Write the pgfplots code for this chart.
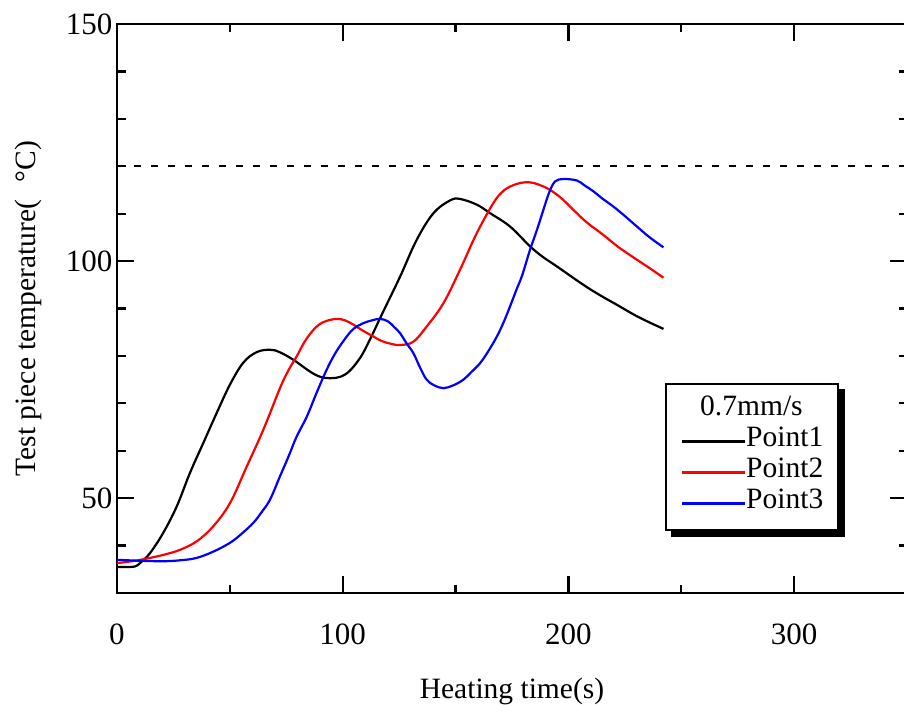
\documentclass[border=0pt]{standalone}
\usepackage{pgfplots}
\pgfplotsset{compat=1.18}
\usepackage{fontspec}
\setmainfont{Liberation Serif}
\usetikzlibrary{backgrounds}
\begin{document}
\begin{tikzpicture}
\begin{axis}[
  scale only axis,
  width=790pt, height=569pt,
  xmin=0, xmax=350, ymin=30, ymax=150,
  xtick={0,100,200,300}, ytick={50,100,150},
  minor xtick={50,150,250,350},
  minor ytick={40,60,70,80,90,110,120,130,140},
  tick align=inside,
  major tick length=17pt, minor tick length=8.5pt,
  every tick/.style={black, line width=2.2pt},
  axis line style={line width=2.4pt},
  tick pos=both,
  font=\fontsize{29.5}{33}\selectfont,
  tick label style={font=\fontsize{31}{35}\selectfont},
  /pgf/number format/assume math mode=true,
  xticklabel style={yshift=-27pt},
  yticklabel style={xshift=-1pt},
  xlabel={Heating time(s)},
  ylabel={Test piece temperature(\kern0.6em°C)},
  xlabel style={at={(axis description cs:0.5,0)}, anchor=base, yshift=-105pt},
  ylabel style={at={(axis description cs:0,0.5)}, anchor=base, yshift=81pt},
  legend cell align=left,
  legend image code/.code={\draw[#1] (0pt,0pt) -- (63pt,0pt);},
  legend style={
    name=leg,
    at={(axis cs:242.8,74.3)}, anchor=north west,
    draw=black, line width=2pt, fill=white,
    inner xsep=15pt, inner ysep=11pt,
    row sep=0pt,
    nodes={inner sep=0pt, text height=21pt, text depth=10pt},
    font=\fontsize{29.5}{31}\selectfont,
  },
]
\addplot[black, line width=1.8pt, dash pattern=on 7pt off 10pt, forget plot] coordinates {(0,120)(350,120)};
\addlegendimage{empty legend}
\addlegendentry{\hspace*{-46pt}0.7mm/s}
\addplot[black, line width=2.2pt, smooth, tension=0.6] coordinates {
(0,35.5)(5,35.5)(8,35.6)(10.2,36.3)(14.6,38.4)(20.5,42.7)(26.5,48.3)(32.3,55.3)(38.2,61.6)(44.2,68.0)(50.1,74.0)(56.0,78.6)(61.9,80.8)(67.8,81.3)(72,80.8)(78.1,79.2)(85.5,76.7)(90,75.6)(94.4,75.3)(99,75.6)(103.2,76.9)(108,79.8)(112.1,83.5)(118,89.4)(125.4,96.7)(132.8,104.5)(140.2,110.1)(147.6,112.8)(152,113.1)(159.4,111.9)(165.3,110.1)(174.1,107.3)(183,103.1)(188.6,100.9)(194.8,98.9)(206.6,95.0)(214,92.8)(221.4,90.8)(231,88.2)(242.1,85.7)
};
\addlegendentry{Point1}
\addplot[red, line width=2.2pt, smooth, tension=0.6] coordinates {
(0,36.3)(8,36.8)(14.6,37.4)(21,38.1)(27.9,39.1)(35.3,40.9)(42.7,44.1)(50.1,49.0)(57.5,56.7)(64.8,64.4)(72.2,73.2)(76,77.0)(79.6,79.9)(83,82.9)(86.5,85.2)(89.5,86.6)(92.9,87.4)(97.4,87.8)(101,87.5)(104.7,86.6)(109,85.3)(113.6,84.1)(117,83.2)(121,82.6)(125.4,82.3)(131.3,83.0)(137.2,86.2)(144.6,91.1)(152,98.2)(159.4,105.9)(166.7,112.2)(170.5,114.5)(174.1,115.7)(179,116.5)(183,116.6)(187,116.1)(191.9,115.0)(197,113.2)(202.2,110.8)(208,108.2)(215.5,105.5)(222,103.0)(230.3,100.3)(236,98.5)(242.1,96.5)
};
\addlegendentry{Point2}
\addplot[blue, line width=2.2pt, smooth, tension=0.6] coordinates {
(0,37.0)(10.2,36.8)(20.5,36.7)(28,36.9)(35.3,37.4)(43,38.8)(50.1,40.6)(55,42.4)(60.4,44.8)(64,47.0)(67.8,49.7)(72.2,54.6)(76,58.8)(79.6,63.0)(84.1,67.2)(88.5,72.3)(92.9,77.1)(97,80.8)(101.8,84.1)(105,85.8)(109.1,86.9)(113,87.5)(116.5,87.8)(120,87.3)(123,86.0)(125.4,84.8)(128.5,82.5)(131.3,80.6)(134.3,77.5)(137.2,75.0)(140.5,73.8)(144.6,73.2)(149,73.8)(153.5,75.0)(157,76.6)(160.9,78.5)(164.5,81.0)(168.3,84.1)(171.2,87.0)(174.1,90.4)(177,94.0)(179.5,97.0)(183,102.4)(186,106.5)(188.9,110.8)(191.5,114.5)(194.1,116.8)(197.8,117.3)(203.7,117.0)(207,116.0)(211.1,114.7)(215,113.2)(219.9,111.5)(225,109.5)(230.3,107.3)(236,105.0)(242.1,102.9)
};
\addlegendentry{Point3}
\end{axis}
\begin{scope}[on background layer]
\fill[black] ([xshift=6pt,yshift=-6pt]leg.south west) rectangle ([xshift=6pt,yshift=-6pt]leg.north east);
\end{scope}
\pgfresetboundingbox
\path ([xshift=-117pt,yshift=-111pt]current axis.south west) rectangle ([xshift=-3pt,yshift=24pt]current axis.north east);
\end{tikzpicture}
\end{document}
